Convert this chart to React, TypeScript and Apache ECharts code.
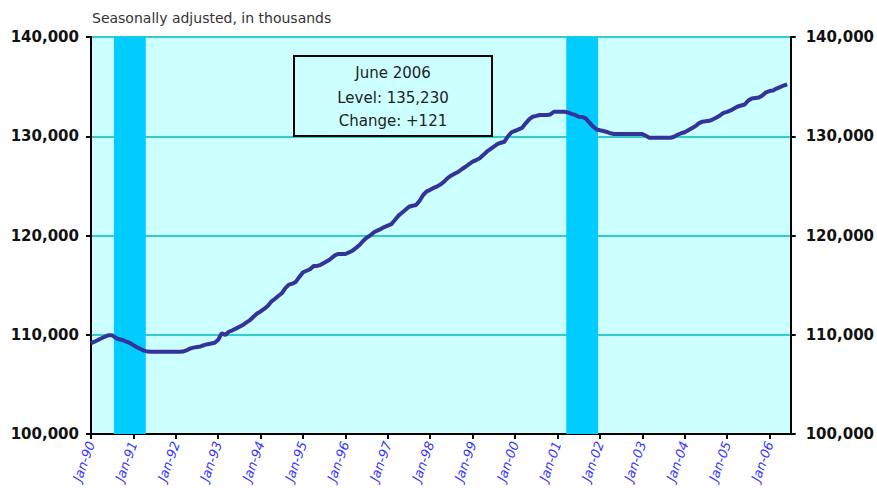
import React, { useEffect, useRef } from 'react';
import * as echarts from 'echarts';

const yearSuffixes = ['90', '91', '92', '93', '94', '95', '96', '97', '98', '99', '00', '01', '02', '03', '04', '05', '06'];
const monthNames = ['Jan', 'Feb', 'Mar', 'Apr', 'May', 'Jun', 'Jul', 'Aug', 'Sep', 'Oct', 'Nov', 'Dec'];

// Total nonfarm employment, seasonally adjusted, thousands (Jan-90 .. Jun-06)
const emp1990 = [109140, 109300, 109480, 109650, 109820, 109950, 109950, 109680, 109540, 109470, 109300, 109170];
const emp1991 = [108950, 108750, 108560, 108400, 108300, 108290, 108290, 108290, 108290, 108290, 108290, 108290];
const emp1992 = [108290, 108290, 108300, 108420, 108600, 108700, 108760, 108820, 108960, 109050, 109120, 109200];
const emp1993 = [109500, 110150, 109970, 110300, 110450, 110620, 110800, 110980, 111250, 111480, 111820, 112150];
const emp1994 = [112350, 112600, 112900, 113330, 113600, 113900, 114180, 114700, 115050, 115150, 115350, 115850];
const emp1995 = [116300, 116450, 116600, 116930, 116930, 117050, 117250, 117450, 117700, 118000, 118140, 118140];
const emp1996 = [118140, 118300, 118470, 118750, 119040, 119450, 119780, 120000, 120300, 120500, 120650, 120850];
const emp1997 = [121000, 121150, 121560, 122000, 122300, 122600, 122900, 123000, 123070, 123500, 124080, 124450];
const emp1998 = [124600, 124800, 124950, 125160, 125450, 125800, 126050, 126250, 126430, 126700, 126930, 127200];
const emp1999 = [127440, 127600, 127780, 128100, 128440, 128700, 128950, 129200, 129350, 129450, 130000, 130400];
const emp2000 = [130550, 130700, 130850, 131300, 131700, 131970, 132050, 132140, 132140, 132140, 132200, 132470];
const emp2001 = [132470, 132470, 132470, 132400, 132250, 132150, 131970, 131950, 131800, 131400, 131000, 130700];
const emp2002 = [130600, 130530, 130430, 130300, 130230, 130230, 130230, 130230, 130230, 130230, 130230, 130230];
const emp2003 = [130230, 130050, 129860, 129850, 129850, 129850, 129850, 129850, 129850, 129950, 130150, 130300];
const emp2004 = [130400, 130600, 130800, 131000, 131300, 131470, 131520, 131560, 131700, 131900, 132100, 132350];
const emp2005 = [132450, 132600, 132800, 133000, 133100, 133200, 133600, 133800, 133850, 133900, 134100, 134430];
const emp2006 = [134550, 134600, 134800, 134950, 135109, 135230];

const employment = [
  ...emp1990, ...emp1991, ...emp1992, ...emp1993, ...emp1994, ...emp1995, ...emp1996, ...emp1997,
  ...emp1998, ...emp1999, ...emp2000, ...emp2001, ...emp2002, ...emp2003, ...emp2004, ...emp2005, ...emp2006,
];

const monthLabels: string[] = [];
yearSuffixes.forEach((y) => monthNames.forEach((m) => monthLabels.push(`${m}-${y}`)));

// Recession periods (start month, end month)
const recessions = [
  ['Jul-90', 'Mar-91'],
  ['Mar-01', 'Nov-01'],
];

const yMin = 100000;
const yMax = 140000;
const yStep = 10000;
const axisMonths = 198; // axis runs Jan-90 .. Jul-06

const annotationTitle = 'June 2006';

export default function App() {
  const ref = useRef<HTMLDivElement>(null);

  useEffect(() => {
    document.body.style.margin = '0';
    if (!ref.current) return;
    const chart = echarts.init(ref.current, null, { renderer: 'svg' });

    const last = employment[employment.length - 1];
    const prev = employment[employment.length - 2];
    const change = last - prev;
    const fmt = (v: number) => v.toLocaleString('en-US');

    const seriesData = employment.map((v, i) => [i, v]);
    const bands = recessions.map(([s, e]) => [
      { xAxis: monthLabels.indexOf(s) + 0.5 },
      { xAxis: monthLabels.indexOf(e) + 1.5 },
    ]);

    const yLabel = {
      fontFamily: 'DejaVu Sans',
      fontSize: 15,
      fontWeight: 'bold',
      color: '#111',
      formatter: (v: number) => fmt(v),
    };

    const boxText = (text: string, y: number) => ({
      type: 'text',
      z: 101,
      x: 393,
      y,
      style: { text, textAlign: 'center', textVerticalAlign: 'middle', fontFamily: 'DejaVu Sans', fontSize: 15, fill: '#222' },
    });

    chart.setOption({
      animation: false,
      backgroundColor: '#ffffff',
      title: {
        text: 'Seasonally adjusted, in thousands',
        left: 87,
        top: 6,
        textStyle: { fontFamily: 'DejaVu Sans', fontSize: 14, fontWeight: 'normal', color: '#333' },
      },
      grid: {
        left: 91,
        right: 85,
        top: 37,
        bottom: 54,
        show: true,
        backgroundColor: '#CCFFFF',
        borderWidth: 0,
      },
      xAxis: {
        type: 'value',
        min: 0,
        max: axisMonths,
        interval: 12,
        axisLine: { show: true, lineStyle: { color: '#000', width: 2 } },
        axisTick: { show: true, inside: false, length: 5, lineStyle: { color: '#000', width: 2 } },
        splitLine: { show: false },
        axisLabel: {
          rotate: 70,
          margin: 8,
          fontFamily: 'DejaVu Sans',
          fontStyle: 'italic',
          fontSize: 13,
          color: '#3333FF',
          showMaxLabel: false,
          formatter: (v: number) => (v % 12 === 0 && v < employment.length ? monthLabels[v] : ''),
        },
      },
      yAxis: [
        {
          type: 'value',
          position: 'left',
          min: yMin,
          max: yMax,
          interval: yStep,
          axisLine: { show: true, lineStyle: { color: '#000', width: 2 } },
          axisTick: { show: true, inside: false, length: 5, lineStyle: { color: '#000', width: 2 } },
          splitLine: { show: true, lineStyle: { color: '#33CCCC', width: 2 } },
          axisLabel: { ...yLabel, margin: 12 },
        },
        {
          type: 'value',
          position: 'right',
          min: yMin,
          max: yMax,
          interval: yStep,
          axisLine: { show: true, lineStyle: { color: '#000', width: 2 } },
          axisTick: { show: true, inside: false, length: 5, lineStyle: { color: '#000', width: 2 } },
          splitLine: { show: false },
          axisLabel: { ...yLabel, margin: 15 },
        },
      ],
      series: [
        {
          name: 'recessions',
          type: 'line',
          data: seriesData,
          symbol: 'none',
          silent: true,
          z: 1,
          lineStyle: { opacity: 0 },
          markArea: {
            silent: true,
            itemStyle: { color: '#00CCFF', opacity: 1 },
            data: bands,
          },
        },
        {
          name: 'Employment',
          type: 'line',
          data: seriesData,
          symbol: 'none',
          z: 5,
          lineStyle: { color: '#333399', width: 4 },
        },
      ],
      graphic: [
        {
          type: 'rect',
          z: 100,
          shape: { x: 294, y: 56, width: 198, height: 80 },
          style: { fill: '#CCFFFF', stroke: '#000', lineWidth: 2 },
        },
        boxText(annotationTitle, 73),
        boxText(`Level: ${fmt(last)}`, 98),
        boxText(`Change: ${change >= 0 ? '+' : ''}${change}`, 121),
      ],
    });

    return () => chart.dispose();
  }, []);

  return <div ref={ref} style={{ width: 877, height: 488 }} />;
}
